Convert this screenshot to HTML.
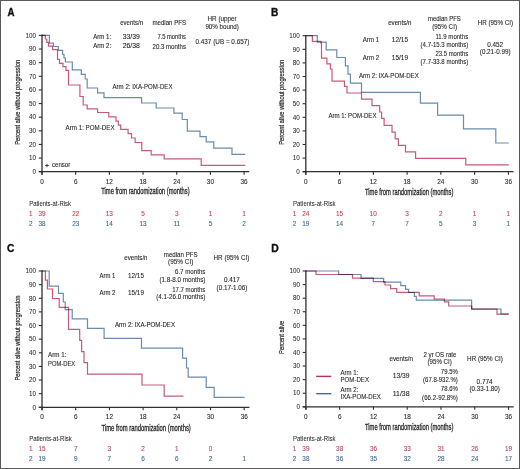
<!DOCTYPE html>
<html><head><meta charset="utf-8"><style>
html,body{margin:0;padding:0;background:#fff;}
body{width:520px;height:469px;overflow:hidden;}
svg{display:block;font-family:"Liberation Sans", sans-serif;}
</style></head><body>
<svg width="520" height="469" viewBox="0 0 520 469">
<rect x="0" y="0" width="520" height="469" fill="#fff"/>
<text x="7.40" y="15.87" font-size="10.2" fill="#111" stroke="#111" stroke-width="0.35" font-weight="bold" textLength="7.00" lengthAdjust="spacingAndGlyphs">A</text>
<line x1="42.00" y1="34.60" x2="42.00" y2="174.70" stroke="#2f2f2f" stroke-width="1.3"/>
<line x1="38.80" y1="171.70" x2="249.30" y2="171.70" stroke="#2f2f2f" stroke-width="1.3"/>
<line x1="38.80" y1="171.70" x2="42.00" y2="171.70" stroke="#2f2f2f" stroke-width="1.1"/>
<text x="36.00" y="173.97" font-size="6.3" fill="#2b2b2b" stroke="#2b2b2b" stroke-width="0.05" text-anchor="end">0</text>
<line x1="38.80" y1="158.07" x2="42.00" y2="158.07" stroke="#2f2f2f" stroke-width="1.1"/>
<text x="36.00" y="160.34" font-size="6.3" fill="#2b2b2b" stroke="#2b2b2b" stroke-width="0.05" text-anchor="end">10</text>
<line x1="38.80" y1="144.44" x2="42.00" y2="144.44" stroke="#2f2f2f" stroke-width="1.1"/>
<text x="36.00" y="146.71" font-size="6.3" fill="#2b2b2b" stroke="#2b2b2b" stroke-width="0.05" text-anchor="end">20</text>
<line x1="38.80" y1="130.81" x2="42.00" y2="130.81" stroke="#2f2f2f" stroke-width="1.1"/>
<text x="36.00" y="133.08" font-size="6.3" fill="#2b2b2b" stroke="#2b2b2b" stroke-width="0.05" text-anchor="end">30</text>
<line x1="38.80" y1="117.18" x2="42.00" y2="117.18" stroke="#2f2f2f" stroke-width="1.1"/>
<text x="36.00" y="119.45" font-size="6.3" fill="#2b2b2b" stroke="#2b2b2b" stroke-width="0.05" text-anchor="end">40</text>
<line x1="38.80" y1="103.55" x2="42.00" y2="103.55" stroke="#2f2f2f" stroke-width="1.1"/>
<text x="36.00" y="105.82" font-size="6.3" fill="#2b2b2b" stroke="#2b2b2b" stroke-width="0.05" text-anchor="end">50</text>
<line x1="38.80" y1="89.92" x2="42.00" y2="89.92" stroke="#2f2f2f" stroke-width="1.1"/>
<text x="36.00" y="92.19" font-size="6.3" fill="#2b2b2b" stroke="#2b2b2b" stroke-width="0.05" text-anchor="end">60</text>
<line x1="38.80" y1="76.29" x2="42.00" y2="76.29" stroke="#2f2f2f" stroke-width="1.1"/>
<text x="36.00" y="78.56" font-size="6.3" fill="#2b2b2b" stroke="#2b2b2b" stroke-width="0.05" text-anchor="end">70</text>
<line x1="38.80" y1="62.66" x2="42.00" y2="62.66" stroke="#2f2f2f" stroke-width="1.1"/>
<text x="36.00" y="64.93" font-size="6.3" fill="#2b2b2b" stroke="#2b2b2b" stroke-width="0.05" text-anchor="end">80</text>
<line x1="38.80" y1="49.03" x2="42.00" y2="49.03" stroke="#2f2f2f" stroke-width="1.1"/>
<text x="36.00" y="51.30" font-size="6.3" fill="#2b2b2b" stroke="#2b2b2b" stroke-width="0.05" text-anchor="end">90</text>
<line x1="38.80" y1="35.40" x2="42.00" y2="35.40" stroke="#2f2f2f" stroke-width="1.1"/>
<text x="36.00" y="37.67" font-size="6.3" fill="#2b2b2b" stroke="#2b2b2b" stroke-width="0.05" text-anchor="end">100</text>
<line x1="42.00" y1="171.70" x2="42.00" y2="174.70" stroke="#2f2f2f" stroke-width="1.1"/>
<text x="42.00" y="183.50" font-size="6.4" fill="#2b2b2b" stroke="#2b2b2b" stroke-width="0.1" text-anchor="middle">0</text>
<line x1="75.68" y1="171.70" x2="75.68" y2="174.70" stroke="#2f2f2f" stroke-width="1.1"/>
<text x="75.68" y="183.50" font-size="6.4" fill="#2b2b2b" stroke="#2b2b2b" stroke-width="0.1" text-anchor="middle">6</text>
<line x1="109.37" y1="171.70" x2="109.37" y2="174.70" stroke="#2f2f2f" stroke-width="1.1"/>
<text x="109.37" y="183.50" font-size="6.4" fill="#2b2b2b" stroke="#2b2b2b" stroke-width="0.1" text-anchor="middle">12</text>
<line x1="143.05" y1="171.70" x2="143.05" y2="174.70" stroke="#2f2f2f" stroke-width="1.1"/>
<text x="143.05" y="183.50" font-size="6.4" fill="#2b2b2b" stroke="#2b2b2b" stroke-width="0.1" text-anchor="middle">18</text>
<line x1="176.73" y1="171.70" x2="176.73" y2="174.70" stroke="#2f2f2f" stroke-width="1.1"/>
<text x="176.73" y="183.50" font-size="6.4" fill="#2b2b2b" stroke="#2b2b2b" stroke-width="0.1" text-anchor="middle">24</text>
<line x1="210.42" y1="171.70" x2="210.42" y2="174.70" stroke="#2f2f2f" stroke-width="1.1"/>
<text x="210.42" y="183.50" font-size="6.4" fill="#2b2b2b" stroke="#2b2b2b" stroke-width="0.1" text-anchor="middle">30</text>
<line x1="244.10" y1="171.70" x2="244.10" y2="174.70" stroke="#2f2f2f" stroke-width="1.1"/>
<text x="244.10" y="183.50" font-size="6.4" fill="#2b2b2b" stroke="#2b2b2b" stroke-width="0.1" text-anchor="middle">36</text>
<text x="101.20" y="194.10" font-size="9.0" fill="#2b2b2b" stroke="#2b2b2b" stroke-width="0.32" textLength="88.40" lengthAdjust="spacingAndGlyphs">Time from randomization (months)</text>
<text transform="translate(19.90,102.30) rotate(-90)" x="-42.50" y="0" font-size="7.4" fill="#2b2b2b" stroke="#2b2b2b" stroke-width="0.22" textLength="85.00" lengthAdjust="spacingAndGlyphs">Percent alive without progression</text>
<text x="120.20" y="24.99" font-size="6.35" fill="#2b2b2b" stroke="#2b2b2b" stroke-width="0.1" textLength="22.90" lengthAdjust="spacingAndGlyphs">events/n</text>
<text x="152.50" y="24.99" font-size="6.35" fill="#2b2b2b" stroke="#2b2b2b" stroke-width="0.1" textLength="33.50" lengthAdjust="spacingAndGlyphs">median PFS</text>
<text x="207.50" y="21.19" font-size="6.35" fill="#2b2b2b" stroke="#2b2b2b" stroke-width="0.1" textLength="29.20" lengthAdjust="spacingAndGlyphs">HR (upper</text>
<text x="205.40" y="28.59" font-size="6.35" fill="#2b2b2b" stroke="#2b2b2b" stroke-width="0.1" textLength="33.50" lengthAdjust="spacingAndGlyphs">90% bound)</text>
<text x="93.30" y="38.79" font-size="6.35" fill="#2b2b2b" stroke="#2b2b2b" stroke-width="0.1" textLength="17.90" lengthAdjust="spacingAndGlyphs">Arm 1:</text>
<text x="122.70" y="38.79" font-size="6.35" fill="#2b2b2b" stroke="#2b2b2b" stroke-width="0.1" textLength="17.20" lengthAdjust="spacingAndGlyphs">33/39</text>
<text x="157.40" y="38.99" font-size="6.35" fill="#2b2b2b" stroke="#2b2b2b" stroke-width="0.1" textLength="28.60" lengthAdjust="spacingAndGlyphs">7.5 months</text>
<text x="93.30" y="48.49" font-size="6.35" fill="#2b2b2b" stroke="#2b2b2b" stroke-width="0.1" textLength="17.90" lengthAdjust="spacingAndGlyphs">Arm 2:</text>
<text x="122.70" y="48.49" font-size="6.35" fill="#2b2b2b" stroke="#2b2b2b" stroke-width="0.1" textLength="17.20" lengthAdjust="spacingAndGlyphs">26/38</text>
<text x="152.50" y="48.69" font-size="6.35" fill="#2b2b2b" stroke="#2b2b2b" stroke-width="0.1" textLength="33.50" lengthAdjust="spacingAndGlyphs">20.3 months</text>
<text x="195.50" y="43.99" font-size="6.35" fill="#2b2b2b" stroke="#2b2b2b" stroke-width="0.1" textLength="53.90" lengthAdjust="spacingAndGlyphs">0.437 (UB = 0.657)</text>
<text x="112.50" y="88.59" font-size="6.35" fill="#2b2b2b" stroke="#2b2b2b" stroke-width="0.1" textLength="60.00" lengthAdjust="spacingAndGlyphs">Arm 2: IXA-POM-DEX</text>
<text x="65.60" y="129.79" font-size="6.35" fill="#2b2b2b" stroke="#2b2b2b" stroke-width="0.1" textLength="49.00" lengthAdjust="spacingAndGlyphs">Arm 1: POM-DEX</text>
<line x1="45.20" y1="165.50" x2="48.80" y2="165.50" stroke="#333" stroke-width="0.9"/>
<line x1="47.00" y1="163.80" x2="47.00" y2="167.20" stroke="#333" stroke-width="0.9"/>
<text x="52.00" y="167.29" font-size="6.35" fill="#2b2b2b" stroke="#2b2b2b" stroke-width="0.1" textLength="18.20" lengthAdjust="spacingAndGlyphs">censor</text>
<text x="29.20" y="205.80" font-size="6.4" fill="#2b2b2b" stroke="#2b2b2b" stroke-width="0.05" textLength="41.80" lengthAdjust="spacingAndGlyphs">Patients-at-Risk</text>
<text x="30.80" y="216.00" font-size="6.4" fill="#bc4664" stroke="#bc4664" stroke-width="0.1" text-anchor="middle">1</text>
<text x="30.80" y="226.00" font-size="6.4" fill="#426a8e" stroke="#426a8e" stroke-width="0.1" text-anchor="middle">2</text>
<text x="42.00" y="216.00" font-size="6.4" fill="#bc4664" stroke="#bc4664" stroke-width="0.1" text-anchor="middle">39</text>
<text x="75.68" y="216.00" font-size="6.4" fill="#bc4664" stroke="#bc4664" stroke-width="0.1" text-anchor="middle">22</text>
<text x="109.37" y="216.00" font-size="6.4" fill="#bc4664" stroke="#bc4664" stroke-width="0.1" text-anchor="middle">13</text>
<text x="143.05" y="216.00" font-size="6.4" fill="#bc4664" stroke="#bc4664" stroke-width="0.1" text-anchor="middle">5</text>
<text x="176.73" y="216.00" font-size="6.4" fill="#bc4664" stroke="#bc4664" stroke-width="0.1" text-anchor="middle">3</text>
<text x="210.42" y="216.00" font-size="6.4" fill="#bc4664" stroke="#bc4664" stroke-width="0.1" text-anchor="middle">1</text>
<text x="244.10" y="216.00" font-size="6.4" fill="#bc4664" stroke="#bc4664" stroke-width="0.1" text-anchor="middle">1</text>
<text x="42.00" y="226.00" font-size="6.4" fill="#426a8e" stroke="#426a8e" stroke-width="0.1" text-anchor="middle">38</text>
<text x="75.68" y="226.00" font-size="6.4" fill="#426a8e" stroke="#426a8e" stroke-width="0.1" text-anchor="middle">23</text>
<text x="109.37" y="226.00" font-size="6.4" fill="#426a8e" stroke="#426a8e" stroke-width="0.1" text-anchor="middle">14</text>
<text x="143.05" y="226.00" font-size="6.4" fill="#426a8e" stroke="#426a8e" stroke-width="0.1" text-anchor="middle">13</text>
<text x="176.73" y="226.00" font-size="6.4" fill="#426a8e" stroke="#426a8e" stroke-width="0.1" text-anchor="middle">11</text>
<text x="210.42" y="226.00" font-size="6.4" fill="#426a8e" stroke="#426a8e" stroke-width="0.1" text-anchor="middle">5</text>
<text x="244.10" y="226.00" font-size="6.4" fill="#426a8e" stroke="#426a8e" stroke-width="0.1" text-anchor="middle">2</text>
<polyline points="42.00,35.40 45.30,35.40 45.30,39.00 46.80,39.00 46.80,42.40 48.50,42.40 48.50,46.20 52.60,46.20 52.60,49.60 57.50,49.60 57.50,59.40 59.50,59.40 59.50,63.40 63.00,63.40 63.00,66.70 66.00,66.70 66.00,70.30 68.50,70.30 68.50,85.00 79.90,85.00 79.90,96.50 83.20,96.50 83.20,105.00 87.20,105.00 87.20,108.80 97.60,108.80 97.60,112.50 108.80,112.50 108.80,116.80 116.00,116.80 116.00,121.20 118.30,121.20 118.30,125.10 120.70,125.10 120.70,129.40 128.10,129.40 128.10,133.70 131.50,133.70 131.50,138.00 135.20,138.00 135.20,142.50 141.80,142.50 141.80,150.60 151.20,150.60 151.20,154.80 164.20,154.80 164.20,158.80 201.20,158.80 201.20,165.40 245.20,165.40" fill="none" stroke="#c65a7a" stroke-width="1.2" stroke-linejoin="miter" style="mix-blend-mode:multiply"/>
<polyline points="42.00,35.40 49.40,35.40 49.40,43.20 53.50,43.20 53.50,46.50 58.30,46.50 58.30,50.30 62.60,50.30 62.60,54.50 64.00,54.50 64.00,58.00 65.40,58.00 65.40,62.00 72.30,62.00 72.30,69.80 81.30,69.80 81.30,74.30 85.20,74.30 85.20,79.00 87.20,79.00 87.20,88.00 97.60,88.00 97.60,92.80 104.00,92.80 104.00,97.60 141.60,97.60 141.60,103.00 156.20,103.00 156.20,108.00 173.90,108.00 173.90,113.10 182.20,113.10 182.20,119.50 187.30,119.50 187.30,131.10 200.00,131.10 200.00,136.60 206.20,136.60 206.20,141.90 213.80,141.90 213.80,148.20 232.00,148.20 232.00,154.30 245.20,154.30" fill="none" stroke="#6a8cae" stroke-width="1.2" stroke-linejoin="miter" style="mix-blend-mode:multiply"/>
<text x="270.90" y="16.27" font-size="10.2" fill="#111" stroke="#111" stroke-width="0.35" font-weight="bold" textLength="7.30" lengthAdjust="spacingAndGlyphs">B</text>
<line x1="305.80" y1="34.90" x2="305.80" y2="174.70" stroke="#2f2f2f" stroke-width="1.3"/>
<line x1="302.60" y1="171.70" x2="513.60" y2="171.70" stroke="#2f2f2f" stroke-width="1.3"/>
<line x1="302.60" y1="171.70" x2="305.80" y2="171.70" stroke="#2f2f2f" stroke-width="1.1"/>
<text x="299.80" y="173.97" font-size="6.3" fill="#2b2b2b" stroke="#2b2b2b" stroke-width="0.05" text-anchor="end">0</text>
<line x1="302.60" y1="158.10" x2="305.80" y2="158.10" stroke="#2f2f2f" stroke-width="1.1"/>
<text x="299.80" y="160.37" font-size="6.3" fill="#2b2b2b" stroke="#2b2b2b" stroke-width="0.05" text-anchor="end">10</text>
<line x1="302.60" y1="144.50" x2="305.80" y2="144.50" stroke="#2f2f2f" stroke-width="1.1"/>
<text x="299.80" y="146.77" font-size="6.3" fill="#2b2b2b" stroke="#2b2b2b" stroke-width="0.05" text-anchor="end">20</text>
<line x1="302.60" y1="130.90" x2="305.80" y2="130.90" stroke="#2f2f2f" stroke-width="1.1"/>
<text x="299.80" y="133.17" font-size="6.3" fill="#2b2b2b" stroke="#2b2b2b" stroke-width="0.05" text-anchor="end">30</text>
<line x1="302.60" y1="117.30" x2="305.80" y2="117.30" stroke="#2f2f2f" stroke-width="1.1"/>
<text x="299.80" y="119.57" font-size="6.3" fill="#2b2b2b" stroke="#2b2b2b" stroke-width="0.05" text-anchor="end">40</text>
<line x1="302.60" y1="103.70" x2="305.80" y2="103.70" stroke="#2f2f2f" stroke-width="1.1"/>
<text x="299.80" y="105.97" font-size="6.3" fill="#2b2b2b" stroke="#2b2b2b" stroke-width="0.05" text-anchor="end">50</text>
<line x1="302.60" y1="90.10" x2="305.80" y2="90.10" stroke="#2f2f2f" stroke-width="1.1"/>
<text x="299.80" y="92.37" font-size="6.3" fill="#2b2b2b" stroke="#2b2b2b" stroke-width="0.05" text-anchor="end">60</text>
<line x1="302.60" y1="76.50" x2="305.80" y2="76.50" stroke="#2f2f2f" stroke-width="1.1"/>
<text x="299.80" y="78.77" font-size="6.3" fill="#2b2b2b" stroke="#2b2b2b" stroke-width="0.05" text-anchor="end">70</text>
<line x1="302.60" y1="62.90" x2="305.80" y2="62.90" stroke="#2f2f2f" stroke-width="1.1"/>
<text x="299.80" y="65.17" font-size="6.3" fill="#2b2b2b" stroke="#2b2b2b" stroke-width="0.05" text-anchor="end">80</text>
<line x1="302.60" y1="49.30" x2="305.80" y2="49.30" stroke="#2f2f2f" stroke-width="1.1"/>
<text x="299.80" y="51.57" font-size="6.3" fill="#2b2b2b" stroke="#2b2b2b" stroke-width="0.05" text-anchor="end">90</text>
<line x1="302.60" y1="35.70" x2="305.80" y2="35.70" stroke="#2f2f2f" stroke-width="1.1"/>
<text x="299.80" y="37.97" font-size="6.3" fill="#2b2b2b" stroke="#2b2b2b" stroke-width="0.05" text-anchor="end">100</text>
<line x1="305.80" y1="171.70" x2="305.80" y2="174.70" stroke="#2f2f2f" stroke-width="1.1"/>
<text x="305.80" y="183.50" font-size="6.4" fill="#2b2b2b" stroke="#2b2b2b" stroke-width="0.1" text-anchor="middle">0</text>
<line x1="339.57" y1="171.70" x2="339.57" y2="174.70" stroke="#2f2f2f" stroke-width="1.1"/>
<text x="339.57" y="183.50" font-size="6.4" fill="#2b2b2b" stroke="#2b2b2b" stroke-width="0.1" text-anchor="middle">6</text>
<line x1="373.33" y1="171.70" x2="373.33" y2="174.70" stroke="#2f2f2f" stroke-width="1.1"/>
<text x="373.33" y="183.50" font-size="6.4" fill="#2b2b2b" stroke="#2b2b2b" stroke-width="0.1" text-anchor="middle">12</text>
<line x1="407.10" y1="171.70" x2="407.10" y2="174.70" stroke="#2f2f2f" stroke-width="1.1"/>
<text x="407.10" y="183.50" font-size="6.4" fill="#2b2b2b" stroke="#2b2b2b" stroke-width="0.1" text-anchor="middle">18</text>
<line x1="440.87" y1="171.70" x2="440.87" y2="174.70" stroke="#2f2f2f" stroke-width="1.1"/>
<text x="440.87" y="183.50" font-size="6.4" fill="#2b2b2b" stroke="#2b2b2b" stroke-width="0.1" text-anchor="middle">24</text>
<line x1="474.63" y1="171.70" x2="474.63" y2="174.70" stroke="#2f2f2f" stroke-width="1.1"/>
<text x="474.63" y="183.50" font-size="6.4" fill="#2b2b2b" stroke="#2b2b2b" stroke-width="0.1" text-anchor="middle">30</text>
<line x1="508.40" y1="171.70" x2="508.40" y2="174.70" stroke="#2f2f2f" stroke-width="1.1"/>
<text x="508.40" y="183.50" font-size="6.4" fill="#2b2b2b" stroke="#2b2b2b" stroke-width="0.1" text-anchor="middle">36</text>
<text x="365.00" y="194.70" font-size="9.0" fill="#2b2b2b" stroke="#2b2b2b" stroke-width="0.32" textLength="88.40" lengthAdjust="spacingAndGlyphs">Time from randomization (months)</text>
<text transform="translate(283.70,102.30) rotate(-90)" x="-42.50" y="0" font-size="7.4" fill="#2b2b2b" stroke="#2b2b2b" stroke-width="0.22" textLength="85.00" lengthAdjust="spacingAndGlyphs">Percent alive without progression</text>
<text x="388.20" y="25.29" font-size="6.35" fill="#2b2b2b" stroke="#2b2b2b" stroke-width="0.1" textLength="23.30" lengthAdjust="spacingAndGlyphs">events/n</text>
<text x="428.00" y="21.49" font-size="6.35" fill="#2b2b2b" stroke="#2b2b2b" stroke-width="0.1" textLength="32.80" lengthAdjust="spacingAndGlyphs">median PFS</text>
<text x="432.20" y="28.59" font-size="6.35" fill="#2b2b2b" stroke="#2b2b2b" stroke-width="0.1" textLength="24.80" lengthAdjust="spacingAndGlyphs">(95% CI)</text>
<text x="477.70" y="25.29" font-size="6.35" fill="#2b2b2b" stroke="#2b2b2b" stroke-width="0.1" textLength="35.50" lengthAdjust="spacingAndGlyphs">HR (95% CI)</text>
<text x="362.80" y="42.19" font-size="6.35" fill="#2b2b2b" stroke="#2b2b2b" stroke-width="0.1" textLength="16.30" lengthAdjust="spacingAndGlyphs">Arm 1</text>
<text x="391.80" y="42.19" font-size="6.35" fill="#2b2b2b" stroke="#2b2b2b" stroke-width="0.1" textLength="16.30" lengthAdjust="spacingAndGlyphs">12/15</text>
<text x="362.80" y="60.19" font-size="6.35" fill="#2b2b2b" stroke="#2b2b2b" stroke-width="0.1" textLength="16.30" lengthAdjust="spacingAndGlyphs">Arm 2</text>
<text x="391.80" y="60.19" font-size="6.35" fill="#2b2b2b" stroke="#2b2b2b" stroke-width="0.1" textLength="16.30" lengthAdjust="spacingAndGlyphs">15/19</text>
<text x="435.40" y="38.89" font-size="6.35" fill="#2b2b2b" stroke="#2b2b2b" stroke-width="0.1" textLength="32.80" lengthAdjust="spacingAndGlyphs">11.9 months</text>
<text x="420.60" y="46.69" font-size="6.35" fill="#2b2b2b" stroke="#2b2b2b" stroke-width="0.1" textLength="47.60" lengthAdjust="spacingAndGlyphs">(4.7-15.3 months)</text>
<text x="435.40" y="56.39" font-size="6.35" fill="#2b2b2b" stroke="#2b2b2b" stroke-width="0.1" textLength="32.80" lengthAdjust="spacingAndGlyphs">23.5 months</text>
<text x="420.60" y="64.19" font-size="6.35" fill="#2b2b2b" stroke="#2b2b2b" stroke-width="0.1" textLength="47.60" lengthAdjust="spacingAndGlyphs">(7.7-33.8 months)</text>
<text x="487.20" y="47.09" font-size="6.35" fill="#2b2b2b" stroke="#2b2b2b" stroke-width="0.1" textLength="15.90" lengthAdjust="spacingAndGlyphs">0.452</text>
<text x="479.80" y="54.29" font-size="6.35" fill="#2b2b2b" stroke="#2b2b2b" stroke-width="0.1" textLength="30.70" lengthAdjust="spacingAndGlyphs">(0.21-0.99)</text>
<text x="359.00" y="78.19" font-size="6.35" fill="#2b2b2b" stroke="#2b2b2b" stroke-width="0.1" textLength="59.70" lengthAdjust="spacingAndGlyphs">Arm 2: IXA-POM-DEX</text>
<text x="328.50" y="117.79" font-size="6.35" fill="#2b2b2b" stroke="#2b2b2b" stroke-width="0.1" textLength="48.00" lengthAdjust="spacingAndGlyphs">Arm 1: POM-DEX</text>
<text x="293.00" y="205.50" font-size="6.4" fill="#2b2b2b" stroke="#2b2b2b" stroke-width="0.05" textLength="42.50" lengthAdjust="spacingAndGlyphs">Patients-at-Risk</text>
<text x="294.50" y="216.10" font-size="6.4" fill="#bc4664" stroke="#bc4664" stroke-width="0.1" text-anchor="middle">1</text>
<text x="294.50" y="225.80" font-size="6.4" fill="#426a8e" stroke="#426a8e" stroke-width="0.1" text-anchor="middle">2</text>
<text x="305.80" y="216.10" font-size="6.4" fill="#bc4664" stroke="#bc4664" stroke-width="0.1" text-anchor="middle">24</text>
<text x="339.57" y="216.10" font-size="6.4" fill="#bc4664" stroke="#bc4664" stroke-width="0.1" text-anchor="middle">15</text>
<text x="373.33" y="216.10" font-size="6.4" fill="#bc4664" stroke="#bc4664" stroke-width="0.1" text-anchor="middle">10</text>
<text x="407.10" y="216.10" font-size="6.4" fill="#bc4664" stroke="#bc4664" stroke-width="0.1" text-anchor="middle">3</text>
<text x="440.87" y="216.10" font-size="6.4" fill="#bc4664" stroke="#bc4664" stroke-width="0.1" text-anchor="middle">2</text>
<text x="474.63" y="216.10" font-size="6.4" fill="#bc4664" stroke="#bc4664" stroke-width="0.1" text-anchor="middle">1</text>
<text x="508.40" y="216.10" font-size="6.4" fill="#bc4664" stroke="#bc4664" stroke-width="0.1" text-anchor="middle">1</text>
<text x="305.80" y="225.80" font-size="6.4" fill="#426a8e" stroke="#426a8e" stroke-width="0.1" text-anchor="middle">19</text>
<text x="339.57" y="225.80" font-size="6.4" fill="#426a8e" stroke="#426a8e" stroke-width="0.1" text-anchor="middle">14</text>
<text x="373.33" y="225.80" font-size="6.4" fill="#426a8e" stroke="#426a8e" stroke-width="0.1" text-anchor="middle">7</text>
<text x="407.10" y="225.80" font-size="6.4" fill="#426a8e" stroke="#426a8e" stroke-width="0.1" text-anchor="middle">7</text>
<text x="440.87" y="225.80" font-size="6.4" fill="#426a8e" stroke="#426a8e" stroke-width="0.1" text-anchor="middle">5</text>
<text x="474.63" y="225.80" font-size="6.4" fill="#426a8e" stroke="#426a8e" stroke-width="0.1" text-anchor="middle">3</text>
<text x="508.40" y="225.80" font-size="6.4" fill="#426a8e" stroke="#426a8e" stroke-width="0.1" text-anchor="middle">1</text>
<polyline points="305.80,35.70 312.40,35.70 312.40,41.40 320.80,41.40 320.80,42.80 321.50,42.80 321.50,58.10 326.90,58.10 326.90,63.90 330.40,63.90 330.40,69.00 332.00,69.00 332.00,81.20 344.50,81.20 344.50,86.40 347.00,86.40 347.00,93.00 361.50,93.00 361.50,99.20 372.00,99.20 372.00,105.60 379.70,105.60 379.70,112.00 381.60,112.00 381.60,118.40 384.10,118.40 384.10,125.40 392.00,125.40 392.00,132.20 395.20,132.20 395.20,138.90 398.40,138.90 398.40,145.30 405.50,145.30 405.50,151.80 415.60,151.80 415.60,158.40 465.80,158.40 465.80,164.90 508.80,164.90" fill="none" stroke="#c65a7a" stroke-width="1.2" stroke-linejoin="miter" style="mix-blend-mode:multiply"/>
<polyline points="305.80,35.70 317.30,35.70 317.30,42.20 326.20,42.20 326.20,49.80 336.80,49.80 336.80,57.50 345.40,57.50 345.40,65.90 348.00,65.90 348.00,74.20 350.40,74.20 350.40,83.20 361.50,83.20 361.50,92.40 420.40,92.40 420.40,103.10 437.60,103.10 437.60,115.10 463.50,115.10 463.50,128.90 495.80,128.90 495.80,143.00 508.80,143.00" fill="none" stroke="#6a8cae" stroke-width="1.2" stroke-linejoin="miter" style="mix-blend-mode:multiply"/>
<text x="7.00" y="251.87" font-size="10.2" fill="#111" stroke="#111" stroke-width="0.35" font-weight="bold" textLength="7.40" lengthAdjust="spacingAndGlyphs">C</text>
<line x1="42.00" y1="270.20" x2="42.00" y2="410.30" stroke="#2f2f2f" stroke-width="1.3"/>
<line x1="38.80" y1="407.30" x2="249.40" y2="407.30" stroke="#2f2f2f" stroke-width="1.3"/>
<line x1="38.80" y1="407.30" x2="42.00" y2="407.30" stroke="#2f2f2f" stroke-width="1.1"/>
<text x="36.00" y="409.57" font-size="6.3" fill="#2b2b2b" stroke="#2b2b2b" stroke-width="0.05" text-anchor="end">0</text>
<line x1="38.80" y1="393.67" x2="42.00" y2="393.67" stroke="#2f2f2f" stroke-width="1.1"/>
<text x="36.00" y="395.94" font-size="6.3" fill="#2b2b2b" stroke="#2b2b2b" stroke-width="0.05" text-anchor="end">10</text>
<line x1="38.80" y1="380.04" x2="42.00" y2="380.04" stroke="#2f2f2f" stroke-width="1.1"/>
<text x="36.00" y="382.31" font-size="6.3" fill="#2b2b2b" stroke="#2b2b2b" stroke-width="0.05" text-anchor="end">20</text>
<line x1="38.80" y1="366.41" x2="42.00" y2="366.41" stroke="#2f2f2f" stroke-width="1.1"/>
<text x="36.00" y="368.68" font-size="6.3" fill="#2b2b2b" stroke="#2b2b2b" stroke-width="0.05" text-anchor="end">30</text>
<line x1="38.80" y1="352.78" x2="42.00" y2="352.78" stroke="#2f2f2f" stroke-width="1.1"/>
<text x="36.00" y="355.05" font-size="6.3" fill="#2b2b2b" stroke="#2b2b2b" stroke-width="0.05" text-anchor="end">40</text>
<line x1="38.80" y1="339.15" x2="42.00" y2="339.15" stroke="#2f2f2f" stroke-width="1.1"/>
<text x="36.00" y="341.42" font-size="6.3" fill="#2b2b2b" stroke="#2b2b2b" stroke-width="0.05" text-anchor="end">50</text>
<line x1="38.80" y1="325.52" x2="42.00" y2="325.52" stroke="#2f2f2f" stroke-width="1.1"/>
<text x="36.00" y="327.79" font-size="6.3" fill="#2b2b2b" stroke="#2b2b2b" stroke-width="0.05" text-anchor="end">60</text>
<line x1="38.80" y1="311.89" x2="42.00" y2="311.89" stroke="#2f2f2f" stroke-width="1.1"/>
<text x="36.00" y="314.16" font-size="6.3" fill="#2b2b2b" stroke="#2b2b2b" stroke-width="0.05" text-anchor="end">70</text>
<line x1="38.80" y1="298.26" x2="42.00" y2="298.26" stroke="#2f2f2f" stroke-width="1.1"/>
<text x="36.00" y="300.53" font-size="6.3" fill="#2b2b2b" stroke="#2b2b2b" stroke-width="0.05" text-anchor="end">80</text>
<line x1="38.80" y1="284.63" x2="42.00" y2="284.63" stroke="#2f2f2f" stroke-width="1.1"/>
<text x="36.00" y="286.90" font-size="6.3" fill="#2b2b2b" stroke="#2b2b2b" stroke-width="0.05" text-anchor="end">90</text>
<line x1="38.80" y1="271.00" x2="42.00" y2="271.00" stroke="#2f2f2f" stroke-width="1.1"/>
<text x="36.00" y="273.27" font-size="6.3" fill="#2b2b2b" stroke="#2b2b2b" stroke-width="0.05" text-anchor="end">100</text>
<line x1="42.00" y1="407.30" x2="42.00" y2="410.30" stroke="#2f2f2f" stroke-width="1.1"/>
<text x="42.00" y="419.10" font-size="6.4" fill="#2b2b2b" stroke="#2b2b2b" stroke-width="0.1" text-anchor="middle">0</text>
<line x1="75.70" y1="407.30" x2="75.70" y2="410.30" stroke="#2f2f2f" stroke-width="1.1"/>
<text x="75.70" y="419.10" font-size="6.4" fill="#2b2b2b" stroke="#2b2b2b" stroke-width="0.1" text-anchor="middle">6</text>
<line x1="109.40" y1="407.30" x2="109.40" y2="410.30" stroke="#2f2f2f" stroke-width="1.1"/>
<text x="109.40" y="419.10" font-size="6.4" fill="#2b2b2b" stroke="#2b2b2b" stroke-width="0.1" text-anchor="middle">12</text>
<line x1="143.10" y1="407.30" x2="143.10" y2="410.30" stroke="#2f2f2f" stroke-width="1.1"/>
<text x="143.10" y="419.10" font-size="6.4" fill="#2b2b2b" stroke="#2b2b2b" stroke-width="0.1" text-anchor="middle">18</text>
<line x1="176.80" y1="407.30" x2="176.80" y2="410.30" stroke="#2f2f2f" stroke-width="1.1"/>
<text x="176.80" y="419.10" font-size="6.4" fill="#2b2b2b" stroke="#2b2b2b" stroke-width="0.1" text-anchor="middle">24</text>
<line x1="210.50" y1="407.30" x2="210.50" y2="410.30" stroke="#2f2f2f" stroke-width="1.1"/>
<text x="210.50" y="419.10" font-size="6.4" fill="#2b2b2b" stroke="#2b2b2b" stroke-width="0.1" text-anchor="middle">30</text>
<line x1="244.20" y1="407.30" x2="244.20" y2="410.30" stroke="#2f2f2f" stroke-width="1.1"/>
<text x="244.20" y="419.10" font-size="6.4" fill="#2b2b2b" stroke="#2b2b2b" stroke-width="0.1" text-anchor="middle">36</text>
<text x="101.50" y="430.50" font-size="9.0" fill="#2b2b2b" stroke="#2b2b2b" stroke-width="0.32" textLength="89.30" lengthAdjust="spacingAndGlyphs">Time from randomization (months)</text>
<text transform="translate(19.90,338.10) rotate(-90)" x="-42.50" y="0" font-size="7.4" fill="#2b2b2b" stroke="#2b2b2b" stroke-width="0.22" textLength="85.00" lengthAdjust="spacingAndGlyphs">Percent alive without progression</text>
<text x="124.30" y="260.39" font-size="6.35" fill="#2b2b2b" stroke="#2b2b2b" stroke-width="0.1" textLength="23.20" lengthAdjust="spacingAndGlyphs">events/n</text>
<text x="163.80" y="256.69" font-size="6.35" fill="#2b2b2b" stroke="#2b2b2b" stroke-width="0.1" textLength="33.80" lengthAdjust="spacingAndGlyphs">median PFS</text>
<text x="168.00" y="263.99" font-size="6.35" fill="#2b2b2b" stroke="#2b2b2b" stroke-width="0.1" textLength="25.40" lengthAdjust="spacingAndGlyphs">(95% CI)</text>
<text x="213.50" y="260.29" font-size="6.35" fill="#2b2b2b" stroke="#2b2b2b" stroke-width="0.1" textLength="35.90" lengthAdjust="spacingAndGlyphs">HR (95% CI)</text>
<text x="99.50" y="277.99" font-size="6.35" fill="#2b2b2b" stroke="#2b2b2b" stroke-width="0.1" textLength="15.90" lengthAdjust="spacingAndGlyphs">Arm 1</text>
<text x="128.10" y="277.99" font-size="6.35" fill="#2b2b2b" stroke="#2b2b2b" stroke-width="0.1" textLength="15.80" lengthAdjust="spacingAndGlyphs">12/15</text>
<text x="99.50" y="295.49" font-size="6.35" fill="#2b2b2b" stroke="#2b2b2b" stroke-width="0.1" textLength="15.90" lengthAdjust="spacingAndGlyphs">Arm 2</text>
<text x="128.10" y="295.49" font-size="6.35" fill="#2b2b2b" stroke="#2b2b2b" stroke-width="0.1" textLength="15.80" lengthAdjust="spacingAndGlyphs">15/19</text>
<text x="175.00" y="274.49" font-size="6.35" fill="#2b2b2b" stroke="#2b2b2b" stroke-width="0.1" textLength="30.40" lengthAdjust="spacingAndGlyphs">6.7 months</text>
<text x="159.50" y="281.79" font-size="6.35" fill="#2b2b2b" stroke="#2b2b2b" stroke-width="0.1" textLength="45.90" lengthAdjust="spacingAndGlyphs">(1.8-8.0 months)</text>
<text x="172.20" y="291.89" font-size="6.35" fill="#2b2b2b" stroke="#2b2b2b" stroke-width="0.1" textLength="33.20" lengthAdjust="spacingAndGlyphs">17.7 months</text>
<text x="156.30" y="299.29" font-size="6.35" fill="#2b2b2b" stroke="#2b2b2b" stroke-width="0.1" textLength="49.10" lengthAdjust="spacingAndGlyphs">(4.1-26.0 months)</text>
<text x="224.00" y="282.49" font-size="6.35" fill="#2b2b2b" stroke="#2b2b2b" stroke-width="0.1" textLength="15.90" lengthAdjust="spacingAndGlyphs">0.417</text>
<text x="216.60" y="290.49" font-size="6.35" fill="#2b2b2b" stroke="#2b2b2b" stroke-width="0.1" textLength="30.70" lengthAdjust="spacingAndGlyphs">(0.17-1.06)</text>
<text x="115.00" y="327.29" font-size="6.35" fill="#2b2b2b" stroke="#2b2b2b" stroke-width="0.1" textLength="60.00" lengthAdjust="spacingAndGlyphs">Arm 2: IXA-POM-DEX</text>
<text x="48.10" y="356.99" font-size="6.35" fill="#2b2b2b" stroke="#2b2b2b" stroke-width="0.1" textLength="18.40" lengthAdjust="spacingAndGlyphs">Arm 1:</text>
<text x="48.10" y="365.69" font-size="6.35" fill="#2b2b2b" stroke="#2b2b2b" stroke-width="0.1" textLength="27.10" lengthAdjust="spacingAndGlyphs">POM-DEX</text>
<text x="29.20" y="441.10" font-size="6.4" fill="#2b2b2b" stroke="#2b2b2b" stroke-width="0.05" textLength="42.70" lengthAdjust="spacingAndGlyphs">Patients-at-Risk</text>
<text x="30.80" y="450.80" font-size="6.4" fill="#bc4664" stroke="#bc4664" stroke-width="0.1" text-anchor="middle">1</text>
<text x="30.80" y="460.90" font-size="6.4" fill="#426a8e" stroke="#426a8e" stroke-width="0.1" text-anchor="middle">2</text>
<text x="42.00" y="450.80" font-size="6.4" fill="#bc4664" stroke="#bc4664" stroke-width="0.1" text-anchor="middle">15</text>
<text x="75.70" y="450.80" font-size="6.4" fill="#bc4664" stroke="#bc4664" stroke-width="0.1" text-anchor="middle">7</text>
<text x="109.40" y="450.80" font-size="6.4" fill="#bc4664" stroke="#bc4664" stroke-width="0.1" text-anchor="middle">3</text>
<text x="143.10" y="450.80" font-size="6.4" fill="#bc4664" stroke="#bc4664" stroke-width="0.1" text-anchor="middle">2</text>
<text x="176.80" y="450.80" font-size="6.4" fill="#bc4664" stroke="#bc4664" stroke-width="0.1" text-anchor="middle">1</text>
<text x="210.50" y="450.80" font-size="6.4" fill="#bc4664" stroke="#bc4664" stroke-width="0.1" text-anchor="middle">0</text>
<text x="42.00" y="460.90" font-size="6.4" fill="#426a8e" stroke="#426a8e" stroke-width="0.1" text-anchor="middle">19</text>
<text x="75.70" y="460.90" font-size="6.4" fill="#426a8e" stroke="#426a8e" stroke-width="0.1" text-anchor="middle">9</text>
<text x="109.40" y="460.90" font-size="6.4" fill="#426a8e" stroke="#426a8e" stroke-width="0.1" text-anchor="middle">7</text>
<text x="143.10" y="460.90" font-size="6.4" fill="#426a8e" stroke="#426a8e" stroke-width="0.1" text-anchor="middle">6</text>
<text x="176.80" y="460.90" font-size="6.4" fill="#426a8e" stroke="#426a8e" stroke-width="0.1" text-anchor="middle">6</text>
<text x="210.50" y="460.90" font-size="6.4" fill="#426a8e" stroke="#426a8e" stroke-width="0.1" text-anchor="middle">2</text>
<text x="244.20" y="460.90" font-size="6.4" fill="#426a8e" stroke="#426a8e" stroke-width="0.1" text-anchor="middle">1</text>
<polyline points="42.00,271.00 45.40,271.00 45.40,280.10 47.40,280.10 47.40,289.00 52.50,289.00 52.50,298.50 59.20,298.50 59.20,307.30 68.50,307.30 68.50,329.40 79.70,329.40 79.70,340.40 81.60,340.40 81.60,351.70 84.00,351.70 84.00,362.60 87.50,362.60 87.50,374.10 142.00,374.10 142.00,385.00 164.20,385.00 164.20,396.20 183.50,396.20" fill="none" stroke="#c65a7a" stroke-width="1.2" stroke-linejoin="miter" style="mix-blend-mode:multiply"/>
<polyline points="42.00,271.00 49.20,271.00 49.20,286.10 58.50,286.10 58.50,293.40 63.30,293.40 63.30,302.00 65.20,302.00 65.20,309.60 72.20,309.60 72.20,318.80 87.50,318.80 87.50,328.40 104.10,328.40 104.10,338.30 141.50,338.30 141.50,348.20 182.60,348.20 182.60,358.10 186.50,358.10 186.50,368.00 188.20,368.00 188.20,377.20 206.20,377.20 206.20,387.40 214.20,387.40 214.20,397.30 244.60,397.30" fill="none" stroke="#6a8cae" stroke-width="1.2" stroke-linejoin="miter" style="mix-blend-mode:multiply"/>
<text x="271.30" y="251.87" font-size="10.2" fill="#111" stroke="#111" stroke-width="0.35" font-weight="bold" textLength="7.50" lengthAdjust="spacingAndGlyphs">D</text>
<line x1="305.90" y1="270.20" x2="305.90" y2="409.80" stroke="#2f2f2f" stroke-width="1.3"/>
<line x1="302.70" y1="406.80" x2="513.70" y2="406.80" stroke="#2f2f2f" stroke-width="1.3"/>
<line x1="302.70" y1="406.80" x2="305.90" y2="406.80" stroke="#2f2f2f" stroke-width="1.1"/>
<text x="299.90" y="409.07" font-size="6.3" fill="#2b2b2b" stroke="#2b2b2b" stroke-width="0.05" text-anchor="end">0</text>
<line x1="302.70" y1="393.22" x2="305.90" y2="393.22" stroke="#2f2f2f" stroke-width="1.1"/>
<text x="299.90" y="395.49" font-size="6.3" fill="#2b2b2b" stroke="#2b2b2b" stroke-width="0.05" text-anchor="end">10</text>
<line x1="302.70" y1="379.64" x2="305.90" y2="379.64" stroke="#2f2f2f" stroke-width="1.1"/>
<text x="299.90" y="381.91" font-size="6.3" fill="#2b2b2b" stroke="#2b2b2b" stroke-width="0.05" text-anchor="end">20</text>
<line x1="302.70" y1="366.06" x2="305.90" y2="366.06" stroke="#2f2f2f" stroke-width="1.1"/>
<text x="299.90" y="368.33" font-size="6.3" fill="#2b2b2b" stroke="#2b2b2b" stroke-width="0.05" text-anchor="end">30</text>
<line x1="302.70" y1="352.48" x2="305.90" y2="352.48" stroke="#2f2f2f" stroke-width="1.1"/>
<text x="299.90" y="354.75" font-size="6.3" fill="#2b2b2b" stroke="#2b2b2b" stroke-width="0.05" text-anchor="end">40</text>
<line x1="302.70" y1="338.90" x2="305.90" y2="338.90" stroke="#2f2f2f" stroke-width="1.1"/>
<text x="299.90" y="341.17" font-size="6.3" fill="#2b2b2b" stroke="#2b2b2b" stroke-width="0.05" text-anchor="end">50</text>
<line x1="302.70" y1="325.32" x2="305.90" y2="325.32" stroke="#2f2f2f" stroke-width="1.1"/>
<text x="299.90" y="327.59" font-size="6.3" fill="#2b2b2b" stroke="#2b2b2b" stroke-width="0.05" text-anchor="end">60</text>
<line x1="302.70" y1="311.74" x2="305.90" y2="311.74" stroke="#2f2f2f" stroke-width="1.1"/>
<text x="299.90" y="314.01" font-size="6.3" fill="#2b2b2b" stroke="#2b2b2b" stroke-width="0.05" text-anchor="end">70</text>
<line x1="302.70" y1="298.16" x2="305.90" y2="298.16" stroke="#2f2f2f" stroke-width="1.1"/>
<text x="299.90" y="300.43" font-size="6.3" fill="#2b2b2b" stroke="#2b2b2b" stroke-width="0.05" text-anchor="end">80</text>
<line x1="302.70" y1="284.58" x2="305.90" y2="284.58" stroke="#2f2f2f" stroke-width="1.1"/>
<text x="299.90" y="286.85" font-size="6.3" fill="#2b2b2b" stroke="#2b2b2b" stroke-width="0.05" text-anchor="end">90</text>
<line x1="302.70" y1="271.00" x2="305.90" y2="271.00" stroke="#2f2f2f" stroke-width="1.1"/>
<text x="299.90" y="273.27" font-size="6.3" fill="#2b2b2b" stroke="#2b2b2b" stroke-width="0.05" text-anchor="end">100</text>
<line x1="305.90" y1="406.80" x2="305.90" y2="409.80" stroke="#2f2f2f" stroke-width="1.1"/>
<text x="305.90" y="419.10" font-size="6.4" fill="#2b2b2b" stroke="#2b2b2b" stroke-width="0.1" text-anchor="middle">0</text>
<line x1="339.67" y1="406.80" x2="339.67" y2="409.80" stroke="#2f2f2f" stroke-width="1.1"/>
<text x="339.67" y="419.10" font-size="6.4" fill="#2b2b2b" stroke="#2b2b2b" stroke-width="0.1" text-anchor="middle">6</text>
<line x1="373.43" y1="406.80" x2="373.43" y2="409.80" stroke="#2f2f2f" stroke-width="1.1"/>
<text x="373.43" y="419.10" font-size="6.4" fill="#2b2b2b" stroke="#2b2b2b" stroke-width="0.1" text-anchor="middle">12</text>
<line x1="407.20" y1="406.80" x2="407.20" y2="409.80" stroke="#2f2f2f" stroke-width="1.1"/>
<text x="407.20" y="419.10" font-size="6.4" fill="#2b2b2b" stroke="#2b2b2b" stroke-width="0.1" text-anchor="middle">18</text>
<line x1="440.97" y1="406.80" x2="440.97" y2="409.80" stroke="#2f2f2f" stroke-width="1.1"/>
<text x="440.97" y="419.10" font-size="6.4" fill="#2b2b2b" stroke="#2b2b2b" stroke-width="0.1" text-anchor="middle">24</text>
<line x1="474.73" y1="406.80" x2="474.73" y2="409.80" stroke="#2f2f2f" stroke-width="1.1"/>
<text x="474.73" y="419.10" font-size="6.4" fill="#2b2b2b" stroke="#2b2b2b" stroke-width="0.1" text-anchor="middle">30</text>
<line x1="508.50" y1="406.80" x2="508.50" y2="409.80" stroke="#2f2f2f" stroke-width="1.1"/>
<text x="508.50" y="419.10" font-size="6.4" fill="#2b2b2b" stroke="#2b2b2b" stroke-width="0.1" text-anchor="middle">36</text>
<text x="365.00" y="430.30" font-size="9.0" fill="#2b2b2b" stroke="#2b2b2b" stroke-width="0.32" textLength="88.40" lengthAdjust="spacingAndGlyphs">Time from randomization (months)</text>
<text transform="translate(283.70,337.30) rotate(-90)" x="-16.60" y="0" font-size="7.4" fill="#2b2b2b" stroke="#2b2b2b" stroke-width="0.22" textLength="33.20" lengthAdjust="spacingAndGlyphs">Percent alive</text>
<text x="389.40" y="361.09" font-size="6.35" fill="#2b2b2b" stroke="#2b2b2b" stroke-width="0.1" textLength="23.70" lengthAdjust="spacingAndGlyphs">events/n</text>
<text x="423.50" y="357.29" font-size="6.35" fill="#2b2b2b" stroke="#2b2b2b" stroke-width="0.1" textLength="32.90" lengthAdjust="spacingAndGlyphs">2 yr OS rate</text>
<text x="427.50" y="364.49" font-size="6.35" fill="#2b2b2b" stroke="#2b2b2b" stroke-width="0.1" textLength="24.30" lengthAdjust="spacingAndGlyphs">(95% CI)</text>
<text x="467.10" y="360.89" font-size="6.35" fill="#2b2b2b" stroke="#2b2b2b" stroke-width="0.1" textLength="35.70" lengthAdjust="spacingAndGlyphs">HR (95% CI)</text>
<text x="392.70" y="378.49" font-size="6.35" fill="#2b2b2b" stroke="#2b2b2b" stroke-width="0.1" textLength="16.90" lengthAdjust="spacingAndGlyphs">13/39</text>
<text x="392.70" y="395.79" font-size="6.35" fill="#2b2b2b" stroke="#2b2b2b" stroke-width="0.1" textLength="16.90" lengthAdjust="spacingAndGlyphs">11/38</text>
<text x="440.80" y="373.89" font-size="6.35" fill="#2b2b2b" stroke="#2b2b2b" stroke-width="0.1" textLength="17.00" lengthAdjust="spacingAndGlyphs">79.5%</text>
<text x="423.10" y="382.29" font-size="6.35" fill="#2b2b2b" stroke="#2b2b2b" stroke-width="0.1" textLength="34.70" lengthAdjust="spacingAndGlyphs">(67.8-932.%)</text>
<text x="440.80" y="391.19" font-size="6.35" fill="#2b2b2b" stroke="#2b2b2b" stroke-width="0.1" textLength="17.00" lengthAdjust="spacingAndGlyphs">78.6%</text>
<text x="422.10" y="399.69" font-size="6.35" fill="#2b2b2b" stroke="#2b2b2b" stroke-width="0.1" textLength="35.70" lengthAdjust="spacingAndGlyphs">(66.2-92.8%)</text>
<text x="476.60" y="383.69" font-size="6.35" fill="#2b2b2b" stroke="#2b2b2b" stroke-width="0.1" textLength="16.10" lengthAdjust="spacingAndGlyphs">0.774</text>
<text x="469.50" y="390.89" font-size="6.35" fill="#2b2b2b" stroke="#2b2b2b" stroke-width="0.1" textLength="30.30" lengthAdjust="spacingAndGlyphs">(0.33-1.80)</text>
<line x1="316.20" y1="376.40" x2="331.30" y2="376.40" stroke="#b8304c" stroke-width="1.4"/>
<line x1="316.20" y1="393.70" x2="331.30" y2="393.70" stroke="#466e94" stroke-width="1.4"/>
<text x="340.50" y="374.79" font-size="6.35" fill="#2b2b2b" stroke="#2b2b2b" stroke-width="0.1" textLength="17.80" lengthAdjust="spacingAndGlyphs">Arm 1:</text>
<text x="340.50" y="382.19" font-size="6.35" fill="#2b2b2b" stroke="#2b2b2b" stroke-width="0.1" textLength="28.50" lengthAdjust="spacingAndGlyphs">POM-DEX</text>
<text x="340.50" y="392.09" font-size="6.35" fill="#2b2b2b" stroke="#2b2b2b" stroke-width="0.1" textLength="17.80" lengthAdjust="spacingAndGlyphs">Arm 2:</text>
<text x="340.50" y="399.49" font-size="6.35" fill="#2b2b2b" stroke="#2b2b2b" stroke-width="0.1" textLength="40.30" lengthAdjust="spacingAndGlyphs">IXA-POM-DEX</text>
<text x="293.00" y="441.10" font-size="6.4" fill="#2b2b2b" stroke="#2b2b2b" stroke-width="0.05" textLength="42.50" lengthAdjust="spacingAndGlyphs">Patients-at-Risk</text>
<text x="294.50" y="451.10" font-size="6.4" fill="#bc4664" stroke="#bc4664" stroke-width="0.1" text-anchor="middle">1</text>
<text x="294.50" y="461.10" font-size="6.4" fill="#426a8e" stroke="#426a8e" stroke-width="0.1" text-anchor="middle">2</text>
<text x="305.90" y="451.10" font-size="6.4" fill="#bc4664" stroke="#bc4664" stroke-width="0.1" text-anchor="middle">39</text>
<text x="339.67" y="451.10" font-size="6.4" fill="#bc4664" stroke="#bc4664" stroke-width="0.1" text-anchor="middle">38</text>
<text x="373.43" y="451.10" font-size="6.4" fill="#bc4664" stroke="#bc4664" stroke-width="0.1" text-anchor="middle">36</text>
<text x="407.20" y="451.10" font-size="6.4" fill="#bc4664" stroke="#bc4664" stroke-width="0.1" text-anchor="middle">33</text>
<text x="440.97" y="451.10" font-size="6.4" fill="#bc4664" stroke="#bc4664" stroke-width="0.1" text-anchor="middle">31</text>
<text x="474.73" y="451.10" font-size="6.4" fill="#bc4664" stroke="#bc4664" stroke-width="0.1" text-anchor="middle">26</text>
<text x="508.50" y="451.10" font-size="6.4" fill="#bc4664" stroke="#bc4664" stroke-width="0.1" text-anchor="middle">19</text>
<text x="305.90" y="461.10" font-size="6.4" fill="#426a8e" stroke="#426a8e" stroke-width="0.1" text-anchor="middle">38</text>
<text x="339.67" y="461.10" font-size="6.4" fill="#426a8e" stroke="#426a8e" stroke-width="0.1" text-anchor="middle">36</text>
<text x="373.43" y="461.10" font-size="6.4" fill="#426a8e" stroke="#426a8e" stroke-width="0.1" text-anchor="middle">35</text>
<text x="407.20" y="461.10" font-size="6.4" fill="#426a8e" stroke="#426a8e" stroke-width="0.1" text-anchor="middle">32</text>
<text x="440.97" y="461.10" font-size="6.4" fill="#426a8e" stroke="#426a8e" stroke-width="0.1" text-anchor="middle">28</text>
<text x="474.73" y="461.10" font-size="6.4" fill="#426a8e" stroke="#426a8e" stroke-width="0.1" text-anchor="middle">24</text>
<text x="508.50" y="461.10" font-size="6.4" fill="#426a8e" stroke="#426a8e" stroke-width="0.1" text-anchor="middle">17</text>
<polyline points="305.90,271.00 316.00,271.00 316.00,274.50 352.50,274.50 352.50,278.20 373.30,278.20 373.30,281.60 385.00,281.60 385.00,285.00 390.60,285.00 390.60,288.60 396.70,288.60 396.70,292.30 419.20,292.30 419.20,295.80 434.20,295.80 434.20,299.00 444.40,299.00 444.40,301.80 448.70,301.80 448.70,306.00 471.80,306.00 471.80,309.20 497.00,309.20 497.00,314.20 508.80,314.20" fill="none" stroke="#c65a7a" stroke-width="1.2" stroke-linejoin="miter" style="mix-blend-mode:multiply"/>
<polyline points="305.90,271.00 338.70,271.00 338.70,274.50 361.00,274.50 361.00,278.40 383.60,278.40 383.60,282.20 400.80,282.20 400.80,285.60 405.60,285.60 405.60,289.40 408.60,289.40 408.60,292.50 414.40,292.50 414.40,296.30 416.30,296.30 416.30,300.20 471.60,300.20 471.60,309.00 501.00,309.00 501.00,314.00 508.80,314.00" fill="none" stroke="#6a8cae" stroke-width="1.2" stroke-linejoin="miter" style="mix-blend-mode:multiply"/>
<rect x="0.5" y="0.5" width="519" height="468" fill="none" stroke="#5a5a5a" stroke-width="1"/>
</svg>
</body></html>
